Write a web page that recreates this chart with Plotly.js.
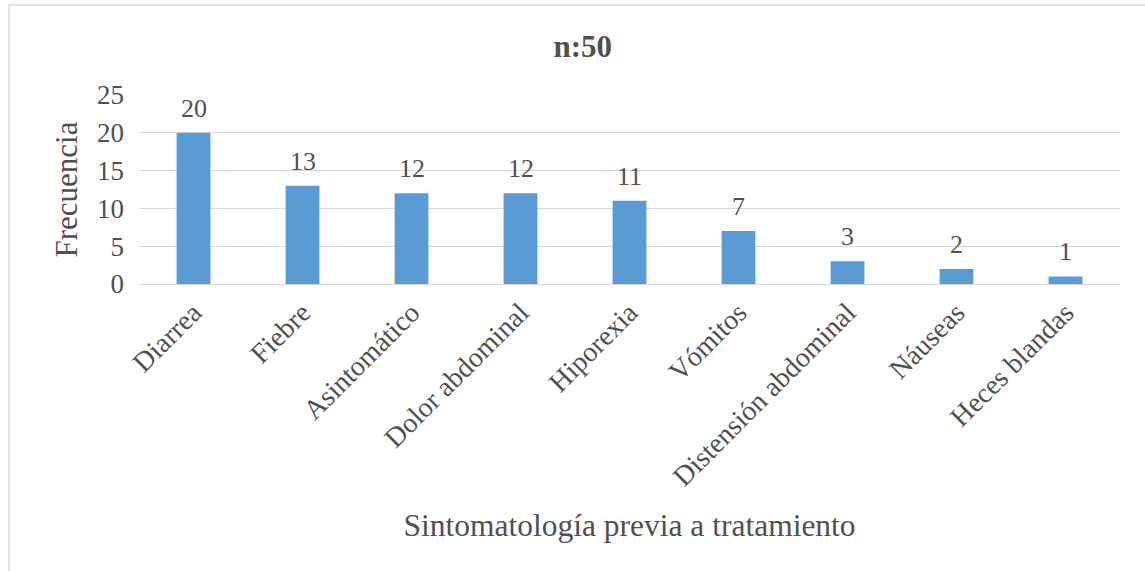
<!DOCTYPE html>
<html>
<head>
<meta charset="utf-8">
<script src="https://cdn.plot.ly/plotly-3.0.1.min.js"></script>
<style>
html,body{margin:0;padding:0;background:#fff;}
#chart{width:1145px;height:571px;}
</style>
</head>
<body>
<div id="chart"></div>
<script>
const categories = ["Diarrea", "Fiebre", "Asintomático", "Dolor abdominal", "Hiporexia", "Vómitos", "Distensión abdominal", "Náuseas", "Heces blandas"];
const values = [20, 13, 12, 12, 11, 7, 3, 2, 1];
const yTickValues = [0, 5, 10, 15, 20, 25];
const titleText = "n:50";
const xTitle = "Sintomatología previa a tratamiento";
const yTitle = "Frecuencia";

const font = "Liberation Serif, Times New Roman, serif";
const textColor = "#505050";

const trace = {
  type: "bar",
  x: categories,
  y: values,
  marker: {color: "#5B9BD5"},
  hoverinfo: "x+y"
};

const labelAnnotations = categories.map((c, i) => ({
  x: c, y: values[i], xref: "x", yref: "y",
  text: String(values[i]),
  showarrow: false,
  yanchor: "bottom",
  yshift: 8,
  font: {family: font, size: 26, color: textColor}
}));

const layout = {
  width: 1145,
  height: 571,
  margin: {l: 139, r: 25, t: 95, b: 287},
  paper_bgcolor: "#ffffff",
  plot_bgcolor: "#ffffff",
  bargap: 0.69,
  showlegend: false,
  title: {
    text: "<b>" + titleText + "</b>",
    font: {family: font, size: 31, color: textColor},
    x: 0.509, xanchor: "center",
    y: 0.92, yanchor: "middle"
  },
  xaxis: {
    tickangle: -45,
    tickfont: {family: font, size: 28, color: textColor},
    showgrid: false,
    showline: true,
    linecolor: "#d9d9d9",
    linewidth: 1,
    ticks: "",
    title: {text: xTitle, font: {family: font, size: 31.5, color: textColor}, standoff: 22}
  },
  yaxis: {
    range: [0, 25],
    tickvals: yTickValues,
    ticktext: yTickValues.map(String),
    tickfont: {family: font, size: 27, color: textColor},
    showgrid: true,
    gridcolor: "#d9d9d9",
    gridwidth: 1,
    zeroline: false,
    showline: false,
    ticks: "",
    ticklabelstandoff: 14,
    title: {text: yTitle, font: {family: font, size: 31, color: textColor}, standoff: 10}
  },
  annotations: labelAnnotations,
  shapes: [{
    type: "rect",
    xref: "paper", yref: "paper",
    x0: -0.1325, x1: 1.2,
    y0: -2, y1: 1.476,
    line: {color: "#d9d9d9", width: 1.5},
    fillcolor: "rgba(0,0,0,0)",
    layer: "below"
  }]
};

Plotly.newPlot("chart", [trace], layout, {displayModeBar: false, staticPlot: true});
</script>
</body>
</html>
